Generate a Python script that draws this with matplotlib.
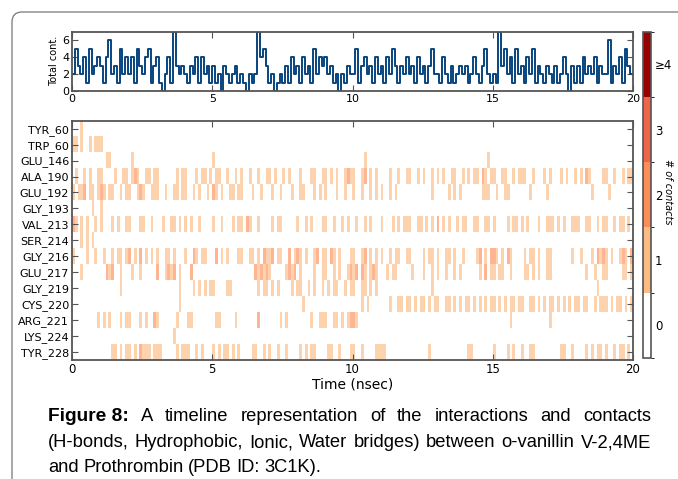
import numpy as np
import matplotlib
matplotlib.use("Agg")
import matplotlib.pyplot as plt
from matplotlib.colors import ListedColormap, BoundaryNorm
from matplotlib.cm import ScalarMappable
from matplotlib.patches import FancyBboxPatch

residues = ["TYR_60", "TRP_60", "GLU_146", "ALA_190", "GLU_192", "GLY_193", "VAL_213",
            "SER_214", "GLY_216", "GLU_217", "GLY_219", "CYS_220", "ARG_221", "LYS_224", "TYR_228"]

# total contacts, one digit per 0.1 ns, groups of 1 ns
total_contacts = (
    "2532415234 3146231524 2415324513 4102417323 2132414231 "
    "3120321231 2102127453 1201213142 3142315243 4231202132 "
    "2513423142 3142531324 2314231352 2142131232 3124213521 "
    "2173524152 3142513213 2131242031 3142324132 2613241532"
)

# contacts per residue, one digit per 0.1 ns, groups of 1 ns
timeline_rows = [
    # TYR_60
    "0001000000 0000000000 0000000000 0000000000 0000000000 "
    "0000000000 0000000000 0000000000 0000000000 0000000000 "
    "0000000000 0000000000 0000000000 0000000000 0000000000 "
    "0000000000 0000000000 0000000000 0000000000 0000000000",
    # TRP_60
    "1101001011 1000000000 0000000000 0000000000 0000000000 "
    "0000000000 0000000000 0000000000 0000000000 0000000000 "
    "0000000000 0000000000 0000000000 0000000000 0000000000 "
    "0000000000 0000000000 0000000000 0000000000 0000000000",
    # GLU_146
    "0000000000 0011000000 0100000000 0000000000 0000000000 "
    "1000000000 0000000000 0000000000 0000000000 0000000000 "
    "0000100000 0000000000 0000000000 0000000000 0000000010 "
    "0000000000 0000000000 0000000000 0000000000 0000000000",
    # ALA_190
    "0100101001 1000010011 0121001101 1000000101 1000101101 "
    "0110010010 1001001001 1010010100 0100011001 1010100121 "
    "1001201010 0001001001 1001010010 1010011001 0101102101 "
    "1001100101 1100100010 1000101001 0102100001 1001001011",
    # GLU_192
    "1011201101 2101100101 1001210011 1001001101 1001010010 "
    "2101001101 1000100100 0100100010 0110001010 1000100100 "
    "1001001010 1001010000 0000000010 0000101010 0000001110 "
    "0100110000 0001000001 0000000000 0000010000 0100000000",
    # GLY_193
    "0000000100 1000000000 0000000000 0000000000 0000000000 "
    "0000000000 0000000000 0000000000 0000000000 0000000000 "
    "0000000000 0000000000 0000000000 0000000000 0000000000 "
    "0000000000 0000000000 0000000000 0000000000 0000000000",
    # VAL_213
    "2101010010 1000101001 1000110010 0010011010 1010010000 "
    "1001000101 1021001000 0101100000 1001010001 1001001010 "
    "0100101000 1000101011 1001101010 2010100101 1001100110 "
    "1000010110 1010001001 1101010011 1001100101 1001011010",
    # SER_214
    "0001010100 0000000000 0000000000 0000000000 0000000000 "
    "0000000000 0000000000 0000000000 0000000000 0000000000 "
    "0000000000 0000000000 0000000000 0000000000 0000000000 "
    "0000000000 0000000000 0000000000 0000000000 0000000000",
    # GLY_216
    "1000010010 0100101101 2010201010 1001101000 1002101100 "
    "0201010001 1001101021 1201100201 2101001201 1021010001 "
    "1001201010 1001011001 1000010110 1001101001 0000120102 "
    "2101021000 0101101001 1000000010 0100010212 1010012102",
    # GLU_217
    "0001000000 0021200100 0100100000 2001212010 0020000000 "
    "0000000000 0000021212 1000001212 0100001001 1001010012 "
    "1202101210 0010110000 0100010010 1001001010 0000010201 "
    "1011001000 0110101001 1000000000 0001001001 1000001101",
    # GLY_219
    "0000000000 0000000100 0000000000 0000000010 0001010101 "
    "1000011000 0000001011 0101000010 1100101001 0101100101 "
    "1001101010 0000000000 0000000010 0000000000 0000000000 "
    "0000000000 0000000000 0000000000 0000000100 0000000000",
    # CYS_220
    "0000000000 0000000000 0000000000 0000000010 0000000000 "
    "0000000000 0000000000 0000000000 0010000000 0000000000 "
    "0001010000 0001001101 1010110101 1001101010 1101010101 "
    "1010101101 1001101010 1101010101 1011001011 1010110101",
    # ARG_221
    "0000000001 0101000101 1000101002 1000000100 0110000000 "
    "0110000010 0000002000 0000101000 0000010011 1001101012 "
    "2100000000 0000000000 0000000000 0000000000 0000000000 "
    "0000001000 0000000000 1000000000 0000000000 0000000000",
    # LYS_224
    "0000000000 0000000000 0000000000 0000001000 0000000000 "
    "0000000000 0000000000 0000000000 0000000000 0000000000 "
    "0000000000 0000000000 0000000000 0000000000 0000000000 "
    "0000000000 0000000000 0000000000 0000000000 0000000000",
    # TYR_228
    "0000000000 0000110101 1010211101 1100000101 1100101000 "
    "1010110101 0000110010 1001001000 0101011000 0110010001 "
    "1001000011 1100000000 0000000100 0000000000 0110000000 "
    "1000010100 1001100000 0000110010 0001010110 1001011010",
]

level_colors = ["#ffffff", "#fdbb84", "#fc8d59", "#ef6548", "#990000"]
level_labels = ["0", "1", "2", "3", "\u22654"]
caption_lines = [
    "Figure 8:  A timeline representation of the interactions and contacts",
    "(H-bonds, Hydrophobic, Ionic, Water bridges) between o-vanillin V-2,4ME",
    "and Prothrombin (PDB ID: 3C1K).",
]

grid = np.array([[int(c) for c in row.replace(" ", "")] for row in timeline_rows])
total = np.array([int(c) for c in total_contacts.replace(" ", "")])
t = (np.arange(len(total)) + 0.5) * (20.0 / len(total))

W, H = 678, 479
fig = plt.figure(figsize=(W / 100, H / 100), dpi=100)
edge = "#555555"

def style_axes(ax):
    for s in ax.spines.values():
        s.set_color(edge)
        s.set_linewidth(1.3)
    ax.tick_params(direction="in", top=True, right=True, length=4, width=0.8, color=edge, pad=2)

# top panel: total contacts
ax1 = fig.add_axes([72 / W, 1 - 91 / H, 561 / W, 59.5 / H])
ax1.plot(t, total, color="#08457e", lw=1.4, drawstyle="steps-mid")
ax1.set_xlim(0, 20)
ax1.set_ylim(0, 7)
ax1.set_yticks([0, 2, 4, 6])
ax1.set_xticks([0, 5, 10, 15, 20])
ax1.set_ylabel("Total cont.", fontsize=7, labelpad=2)
style_axes(ax1)
ax1.tick_params(labelsize=8)

# timeline heatmap
cmap = ListedColormap(level_colors)
norm = BoundaryNorm(np.arange(-0.5, 5.5, 1), cmap.N)
ax2 = fig.add_axes([72 / W, 1 - 360 / H, 561 / W, 239.3 / H])
ax2.imshow(grid, aspect="auto", cmap=cmap, norm=norm, interpolation="nearest",
           extent=[0, 20, len(residues) - 0.5, -0.5], alpha=0.65)
ax2.set_yticks(range(len(residues)))
ax2.set_yticklabels(residues, fontsize=8)
ax2.set_xticks([0, 5, 10, 15, 20])
ax2.set_xlim(0, 20)
ax2.set_xlabel("Time (nsec)", fontsize=10, labelpad=1)
style_axes(ax2)
ax2.tick_params(axis="x", labelsize=8.5)

# colorbar
cax = fig.add_axes([643 / W, 1 - 358 / H, 8 / W, 326.3 / H])
cb = fig.colorbar(ScalarMappable(norm=norm, cmap=cmap), cax=cax, ticks=range(5))
cb.set_ticklabels(level_labels)
cb.outline.set_edgecolor(edge)
cb.outline.set_linewidth(1.2)
cax.tick_params(length=0, labelsize=8.5, pad=3)
fig.text(668 / W, 1 - 192 / H, "# of contacts", rotation=270, ha="center", va="center",
         fontsize=7, style="italic")

# caption, first two lines justified
renderer = fig.canvas.get_renderer()
x_left, x_right = 48, 651
baselines = [421, 447, 472]
cap_font = "Liberation Sans"
cap_size = 13.2
for i, line in enumerate(caption_lines):
    y = 1 - baselines[i] / H
    if i == 0:
        words = ["Figure 8:"] + line.split("  ", 1)[1].split()
    else:
        words = line.split()
    texts = []
    for j, w in enumerate(words):
        bold = (i == 0 and j == 0)
        texts.append(fig.text(0, y, w, fontsize=13.8 if bold else cap_size, family=cap_font,
                              weight="bold" if bold else "normal", va="baseline", ha="left"))
    widths = [tx.get_window_extent(renderer).width for tx in texts]
    if i < 2:
        gap = (x_right - x_left - sum(widths)) / (len(words) - 1)
    else:
        gap = 4.6
    x = x_left
    for tx, w in zip(texts, widths):
        tx.set_x(x / W)
        x += w + gap

# rounded page frame
frame = FancyBboxPatch((0.12, -0.5), 8.0, 4.67 + 0.5,
                       boxstyle="round,pad=0,rounding_size=0.1",
                       transform=fig.dpi_scale_trans, facecolor="none",
                       edgecolor="#777777", linewidth=0.9, clip_on=False)
fig.add_artist(frame)

fig.savefig("out.png", dpi=100)
